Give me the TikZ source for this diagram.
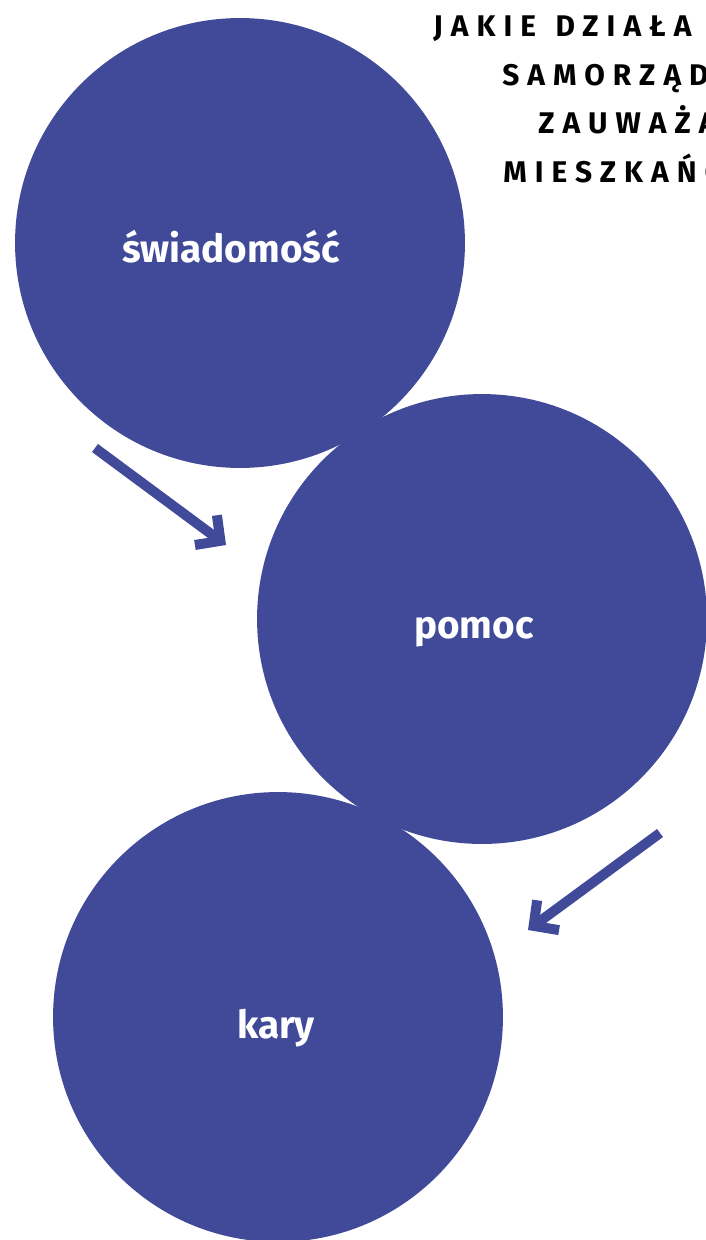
\documentclass[tikz,border=0pt]{standalone}
\usepackage{fontspec}
\setmainfont{Fira Sans}
\newfontfamily\titlefont[LetterSpace=27]{Fira Sans}
\usetikzlibrary{positioning, arrows.meta}
\definecolor{blobblue}{RGB}{64,74,152}

\begin{document}
\begin{tikzpicture}[x=0.02cm, y=-0.02cm,
   blob/.style={circle, fill=blobblue, minimum size=9cm, inner sep=0pt},
   blobtext/.style={anchor=base, inner sep=0pt, text=white,
                    font=\fontsize{22}{26}\selectfont\bfseries},
   title/.style={anchor=base west, inner sep=0pt,
                 font=\titlefont\fontsize{17}{20}\selectfont\bfseries},
   pointer/.style={draw=blobblue, line width=0.2cm,
                   -{Straight Barb[length=3.6mm, width=7.4mm]}}]
   \useasboundingbox (0,0) rectangle (706,1240);
   \clip (0,0) rectangle (706,1240);

   % the three blobs
   \node[blob] (swiad) at (240,243) {};
   \node[blob] (pomoc) at (482,619) {};
   \node[blob] (kary)  at (278,1017) {};
   \node[blobtext] (swiadt) at (231,262)  {świadomość};
   \node[blobtext] (pomoct) at (474,638)  {pomoc};
   \node[blobtext] (karyt)  at (276,1038) {kary};

   % heading, cut off by the right edge
   \node[title] (t1) at (433,37)  {JAKIE\hspace{0.15em} DZIAŁA};
   \node[title] (t2) at (502,86)  {SAMORZĄD};
   \node[title] (t3) at (538,134) {ZAUWAŻA};
   \node[title] (t4) at (503,183) {MIESZKAŃC};

   % arrows between the blobs
   \coordinate (a1s) at (95,448);
   \coordinate (a1e) at (226,545);
   \coordinate (a2s) at (660,833);
   \coordinate (a2e) at (528,930);
   \draw[pointer] (a1s) -- (a1e);
   \draw[pointer] (a2s) -- (a2e);
\end{tikzpicture}
\end{document}
